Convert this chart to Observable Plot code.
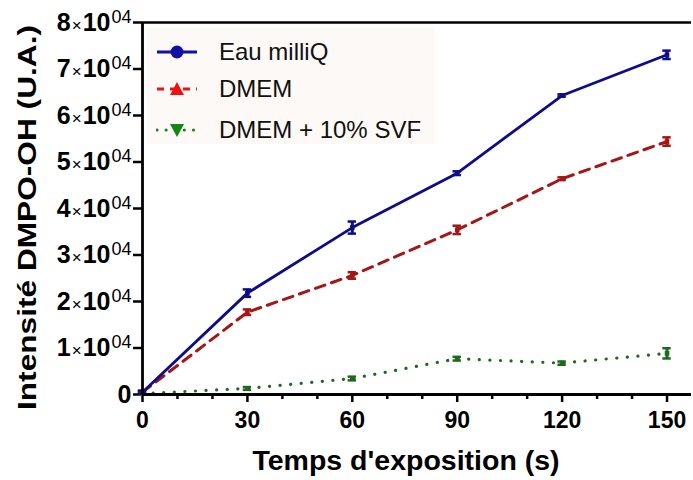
<!DOCTYPE html>
<html>
<head>
<meta charset="utf-8">
<script src="https://cdn.jsdelivr.net/npm/d3@7"></script>
<script src="https://cdn.jsdelivr.net/npm/@observablehq/plot@0.6"></script>
<style>
  body { margin: 0; background: #fff; font-family: "Liberation Sans", Arial, sans-serif; }
  #wrap { position: relative; width: 693px; height: 480px; }
  #legend { position: absolute; left: 147px; top: 28px; width: 288px; height: 116px; background: #fdf9f6; }
  .row { position: absolute; left: 0; height: 30px; display: flex; align-items: center; }
  .row svg { margin-left: 9px; }
  .row span { font-size: 24px; color: #111; margin-left: 21px; white-space: nowrap; }
</style>
</head>
<body>
<div id="wrap">
  <div id="chart"></div>
  <div id="legend"></div>
</div>
<script>
// ---- data ----
const times = [0, 30, 60, 90, 120, 150];
const seriesNames = ["Eau milliQ", "DMEM", "DMEM + 10% SVF"];
const eauValues = [500, 21800, 35900, 47600, 64300, 73050];
const eauErrors = [300, 800, 1300, 400, 250, 900];
const dmemValues = [500, 17700, 25600, 35400, 46400, 54400];
const dmemErrors = [300, 600, 700, 900, 300, 900];
const svfValues = [200, 1300, 3440, 7700, 6750, 8850];
const svfErrors = [150, 300, 400, 400, 350, 1100];
const xMajorTicks = [0, 30, 60, 90, 120, 150];
const xMinorTicks = [10, 20, 40, 50, 70, 80, 100, 110, 130, 140];
const yTicks = [0, 10000, 20000, 30000, 40000, 50000, 60000, 70000, 80000];
const xTitle = "Temps d'exposition (s)";
const yTitle = "Intensité DMPO-OH (U.A.)";

const colors = { "Eau milliQ": "#0d0d8a", "DMEM": "#a51616", "DMEM + 10% SVF": "#1d6a1d" };
const dashes = { "Eau milliQ": null, "DMEM": "10,7", "DMEM + 10% SVF": "0.1,10.5" };
const widths = { "Eau milliQ": 2.8, "DMEM": 3, "DMEM + 10% SVF": 3.2 };

const valueSets = [eauValues, dmemValues, svfValues];
const errorSets = [eauErrors, dmemErrors, svfErrors];
const rows = [];
seriesNames.forEach((s, i) => {
  times.forEach((t, j) => rows.push({ series: s, t, v: valueSets[i][j], e: errorSets[i][j] }));
});

const marks = [];
seriesNames.slice().reverse().forEach(s => {
  const d = rows.filter(r => r.series === s);
  const c = colors[s];
  if (dashes[s]) {
    marks.push(Plot.line(d, { x: "t", y: "v", stroke: c, strokeWidth: widths[s], strokeDasharray: dashes[s], strokeLinecap: "round" }));
  } else {
    marks.push(Plot.line(d, { x: "t", y: "v", stroke: c, strokeWidth: widths[s] }));
  }
  marks.push(Plot.ruleX(d, { x: "t", y1: r => r.v - r.e, y2: r => r.v + r.e, stroke: c, strokeWidth: 3 }));
  marks.push(Plot.ruleY(d, { y: r => r.v - r.e, x1: r => r.t - 1.2, x2: r => r.t + 1.2, stroke: c, strokeWidth: 2.5 }));
  marks.push(Plot.ruleY(d, { y: r => r.v + r.e, x1: r => r.t - 1.2, x2: r => r.t + 1.2, stroke: c, strokeWidth: 2.5 }));
  marks.push(Plot.dot(d, { x: "t", y: "v", symbol: "square", r: 2.6, fill: c }));
});

const chart = Plot.plot({
  width: 693,
  height: 480,
  marginLeft: 142,
  marginRight: 2,
  marginTop: 22,
  marginBottom: 86,
  style: { fontFamily: "Liberation Sans, Arial, sans-serif", background: "transparent", overflow: "visible" },
  x: { domain: [0, 157] },
  y: { domain: [0, 80000] },
  marks: [
    Plot.axisX({ ticks: xMajorTicks, tickSize: 8, tickPadding: 9, tickFormat: d => String(d), fontSize: 23, fontWeight: "bold", strokeWidth: 2.5, stroke: "#000", fill: "#000", label: null }),
    Plot.axisX({ ticks: xMinorTicks, tickSize: 5, text: null, strokeWidth: 2.5, stroke: "#000", label: null }),
    Plot.axisY({ ticks: yTicks, tickSize: 9, tickPadding: 2, tickFormat: d => d === 0 ? "0" : `${d / 10000}|10|04`, fontSize: 25, fontWeight: "bold", strokeWidth: 2.5, stroke: "#000", fill: "#000", label: null }),
    ...marks,
    Plot.ruleX([0], { stroke: "#000", strokeWidth: 2.8 }),
    Plot.ruleY([0], { stroke: "#000", strokeWidth: 2.8 }),
    Plot.ruleY([80000], { stroke: "#000", strokeWidth: 2.5 }),
    Plot.text([xTitle], { frameAnchor: "bottom", textAnchor: "middle", dx: -11, dy: 75, fontSize: 28.5, fontWeight: "bold", fill: "#000" }),
    Plot.text([yTitle], { frameAnchor: "left", textAnchor: "middle", dx: -115, dy: 9, rotate: -90, fontSize: 26, fontWeight: "bold", fill: "#000" })
  ]
});
document.getElementById("chart").appendChild(chart);

// stretch the y title to the reference length
d3.select(chart).selectAll("text").filter(function () { return this.textContent === yTitle; })
  .attr("textLength", 385).attr("lengthAdjust", "spacingAndGlyphs");

// rich y tick labels: "8×10^04"
d3.select(chart).selectAll('g[aria-label="y-axis tick label"] text').each(function () {
  const txt = this.textContent;
  if (!txt.includes("|")) return;
  const [m, b, ex] = txt.split("|");
  const sel = d3.select(this);
  sel.text(null);
  sel.append("tspan").text(m);
  sel.append("tspan").attr("font-weight", "normal").attr("font-size", 17).attr("dx", 1).text("×");
  sel.append("tspan").attr("dx", 1).text(b);
  sel.append("tspan").attr("font-weight", "normal").attr("font-size", 18).attr("dx", 1).attr("dy", "-0.42em").text(ex);
});

// legend
const legend = document.getElementById("legend");
const legendTops = [9, 46, 87];
const symbolFns = {
  "Eau milliQ": c => `<circle cx="21" cy="10" r="6.5" fill="${c}"/>`,
  "DMEM": c => `<path d="M21,3 L28,16 L14,16 Z" fill="${c}"/>`,
  "DMEM + 10% SVF": c => `<path d="M21,17 L28,4 L14,4 Z" fill="${c}"/>`
};
const legendColors = { "Eau milliQ": "#1111a8", "DMEM": "#ee1111", "DMEM + 10% SVF": "#118811" };
seriesNames.forEach((s, i) => {
  const c = legendColors[s];
  const dash = s === "DMEM" ? 'stroke-dasharray="7,6"' : (s === "DMEM + 10% SVF" ? 'stroke-dasharray="0.1,9" stroke-linecap="round"' : "");
  const row = document.createElement("div");
  row.className = "row";
  row.style.top = legendTops[i] + "px";
  row.innerHTML = `<svg width="42" height="20"><line x1="1" y1="10" x2="41" y2="10" stroke="${c}" stroke-width="3" ${dash}/>${symbolFns[s](c)}</svg><span>${s}</span>`;
  legend.appendChild(row);
});
</script>
</body>
</html>
